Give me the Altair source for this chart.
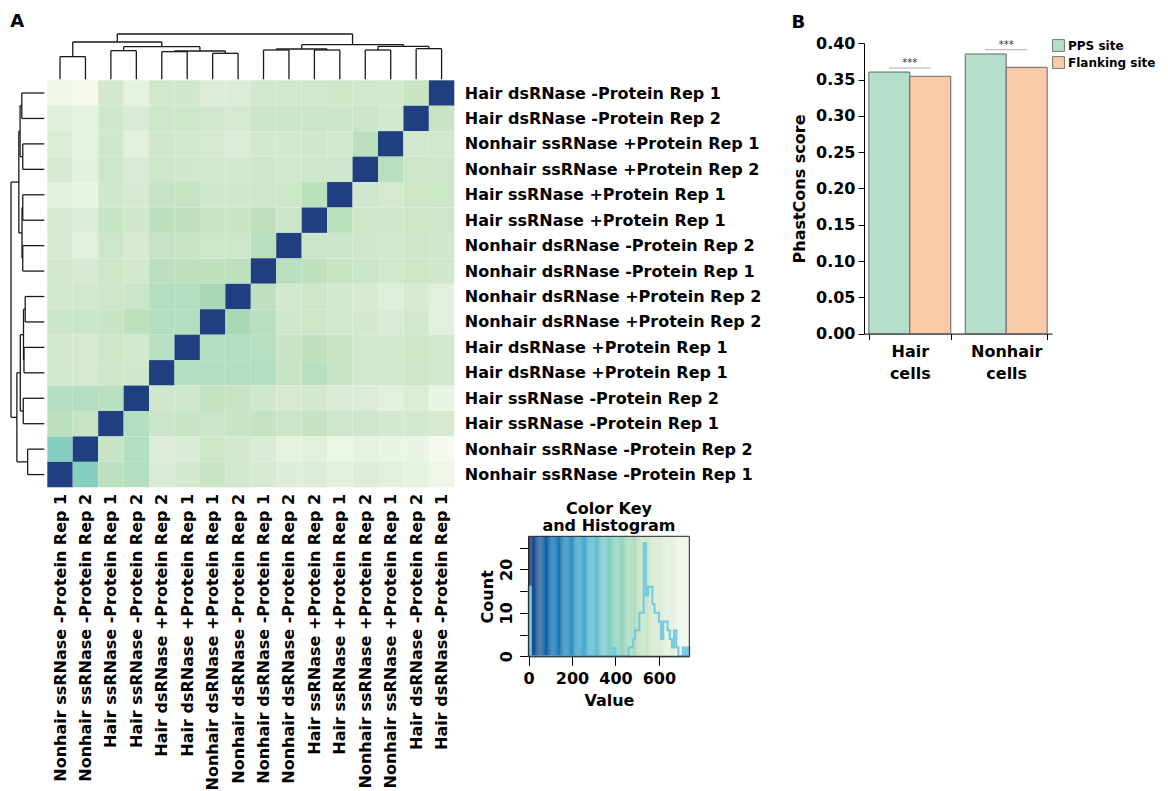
import json
import numpy as np
import pandas as pd
import altair as alt

FONT = "DejaVu Sans"

# ---------------- data: panel A ----------------
col_labels = [
    "Nonhair ssRNase -Protein Rep 1",
    "Nonhair ssRNase -Protein Rep 2",
    "Hair ssRNase -Protein Rep 1",
    "Hair ssRNase -Protein Rep 2",
    "Hair dsRNase +Protein Rep 2",
    "Hair dsRNase +Protein Rep 1",
    "Nonhair dsRNase +Protein Rep 1",
    "Nonhair dsRNase -Protein Rep 2",
    "Nonhair dsRNase -Protein Rep 1",
    "Nonhair dsRNase -Protein Rep 2",
    "Hair ssRNase +Protein Rep 2",
    "Hair ssRNase +Protein Rep 1",
    "Nonhair ssRNase +Protein Rep 2",
    "Nonhair ssRNase +Protein Rep 1",
    "Hair dsRNase -Protein Rep 2",
    "Hair dsRNase -Protein Rep 1",
]
row_labels = [
    "Hair dsRNase -Protein Rep 1",
    "Hair dsRNase -Protein Rep 2",
    "Nonhair ssRNase +Protein Rep 1",
    "Nonhair ssRNase +Protein Rep 2",
    "Hair ssRNase +Protein Rep 1",
    "Hair ssRNase +Protein Rep 1",
    "Nonhair dsRNase -Protein Rep 2",
    "Nonhair dsRNase -Protein Rep 1",
    "Nonhair dsRNase +Protein Rep 2",
    "Nonhair dsRNase +Protein Rep 2",
    "Hair dsRNase +Protein Rep 1",
    "Hair dsRNase +Protein Rep 1",
    "Hair ssRNase -Protein Rep 2",
    "Hair ssRNase -Protein Rep 1",
    "Nonhair ssRNase -Protein Rep 2",
    "Nonhair ssRNase -Protein Rep 1",
]
# distance values, one list per heatmap row (top to bottom), columns left to right
dist_rows = [
    [706, 740, 577, 670, 570, 562, 610, 610, 570, 570, 570, 552, 570, 577, 540, 0],
    [632, 670, 562, 600, 549, 549, 570, 582, 546, 546, 546, 546, 546, 577, 0, 540],
    [605, 670, 562, 640, 562, 570, 582, 610, 577, 577, 562, 577, 512, 0, 577, 570],
    [590, 650, 549, 600, 552, 562, 570, 578, 557, 570, 557, 557, 0, 512, 552, 557],
    [650, 685, 562, 590, 537, 537, 562, 562, 557, 552, 515, 0, 562, 582, 552, 549],
    [590, 610, 540, 562, 515, 525, 540, 540, 520, 546, 0, 515, 552, 562, 552, 557],
    [590, 650, 549, 590, 537, 537, 549, 549, 512, 0, 546, 546, 557, 570, 552, 562],
    [570, 590, 549, 577, 515, 520, 528, 520, 0, 512, 525, 537, 546, 570, 552, 562],
    [570, 570, 552, 546, 495, 495, 470, 0, 520, 570, 552, 577, 590, 628, 590, 640],
    [546, 546, 540, 520, 495, 495, 0, 470, 512, 562, 552, 570, 578, 600, 570, 640],
    [577, 590, 552, 570, 505, 0, 495, 495, 505, 540, 525, 540, 570, 570, 552, 577],
    [570, 582, 552, 562, 0, 495, 495, 495, 495, 540, 512, 540, 570, 570, 552, 570],
    [495, 495, 505, 0, 557, 562, 531, 537, 562, 590, 577, 600, 610, 640, 605, 685],
    [518, 537, 0, 495, 546, 540, 546, 540, 535, 546, 535, 557, 557, 577, 570, 586],
    [400, 0, 540, 495, 610, 600, 552, 570, 600, 670, 640, 695, 670, 690, 690, 740],
    [0, 400, 520, 495, 600, 577, 540, 570, 590, 620, 610, 650, 620, 640, 670, 710],
]
# hierarchical clustering merges (negative = leaf in column order, positive = earlier merge)
merge_left = [-1, -3, -5, -7, 3, 2, 1, -9, -11, 8, -13, -15, 11, 10, 7]
merge_right = [-2, -4, -6, -8, 4, 5, 6, -10, -12, 9, -14, -16, 12, 13, 14]
merge_height = [68, 86, 83, 78, 85, 98, 112, 88, 88, 91, 88, 92, 99, 104, 136]

# histogram of the colour key (bin start -> count, bins of 10)
hist_bin_starts = [0, 390, 460, 470, 480, 490, 500, 510, 520, 530, 540, 550, 560, 570, 580,
                   590, 600, 610, 620, 630, 640, 650, 660, 670, 680, 710, 730]
hist_counts = [16, 2, 2, 2, 4, 6, 6, 10, 10, 26, 14, 16, 16, 12, 10,
               10, 8, 4, 8, 8, 6, 4, 2, 6, 2, 2, 2]
hist_bin_width = 10
key_value_max = 740
key_count_max = 27.6

color_stops = [0, 100, 190, 280, 360, 400, 470, 495, 520, 550, 610, 670, 740]
color_hex = ["#1f3f80", "#0868ac", "#2b8cbe", "#4eb3d3", "#7bccc4", "#85cfc0",
             "#a8d8b4", "#b4dec0", "#bde0be", "#cce6c8", "#dcecd6", "#e6f2e0", "#f5f9ee"]

# ---------------- data: panel B ----------------
bar_cells = ["Hair cells", "Hair cells", "Nonhair cells", "Nonhair cells"]
bar_sites = ["PPS site", "Flanking site", "PPS site", "Flanking site"]
bar_values = [0.3604, 0.3545, 0.3853, 0.3669]
sig_cells = ["Hair cells", "Nonhair cells"]
sig_values = [0.366, 0.391]
site_names = ["PPS site", "Flanking site"]
site_colors = ["#b3dfcb", "#fbcba9"]
cell_names = ["Hair cells", "Nonhair cells"]

# ---------------- layout (pixels) ----------------
OX, OY = 11.7, 32.7
HEAT_X = [48 - OX, 455 - OX]
HEAT_Y = [79 - OY, 486 - OY]
ROWD_X = [45 - OX, 11.7 - OX]
COLD_Y = [78 - OY, 32.7 - OY]
KEY_X = [529.3 - OX, 690 - OX]
KEY_Y = [655 - OY, 535 - OY]
A_W = 455 - OX
A_H = 486 - OY
B_W = 188
B_H = 332.3 - OY
B_Y_RANGE = [B_H, 42 - OY]

# ---------------- derived tables ----------------
n = len(col_labels)
heat_df = pd.DataFrame(
    [{"c": c, "c2": c + 1, "r": r, "r2": r + 1, "dist": dist_rows[r][c]}
     for r in range(n) for c in range(n)]
)

pos, hgt, segs = {}, {}, []
for j in range(n):
    pos[-(j + 1)] = j + 0.5
    hgt[-(j + 1)] = 0
for m, (a, b, h) in enumerate(zip(merge_left, merge_right, merge_height), start=1):
    for ch in (a, b):
        segs.append((pos[ch], pos[ch], hgt[ch], h))
    segs.append((pos[a], pos[b], h, h))
    pos[m] = (pos[a] + pos[b]) / 2
    hgt[m] = h
seg_df = pd.DataFrame(segs, columns=["p1", "p2", "h1", "h2"])
seg_df["rp1"] = n - seg_df["p1"]
seg_df["rp2"] = n - seg_df["p2"]
HMAX = max(merge_height)

count_of = dict(zip(hist_bin_starts, hist_counts))
starts = list(range(0, key_value_max, hist_bin_width))
step_counts = [count_of.get(s, 0) for s in starts]
hist_df = pd.DataFrame({
    "kx": [0] + starts + [key_value_max, key_value_max],
    "ky": [0] + step_counts + [step_counts[-1], 0],
})
kedges = np.linspace(0, key_value_max, 149)
keybg_df = pd.DataFrame({"kx": kedges[:-1], "kx2": kedges[1:],
                         "kv": (kedges[:-1] + kedges[1:]) / 2,
                         "ky": 0.0, "ky2": key_count_max})
frame_df = pd.DataFrame({"kx": [0.0], "kx2": [key_value_max], "ky": [0.0], "ky2": [key_count_max]})
keytitle_df = pd.DataFrame({"kx": [key_value_max / 2], "ky": [32.7],
                            "t": ["Color Key\nand Histogram"]})

# ---------------- panel A ----------------
cscale = alt.Scale(domain=color_stops, range=color_hex, interpolate="rgb")
idx_x = alt.Scale(domain=[0, n], range=HEAT_X, nice=False, zero=False)
idx_y = alt.Scale(domain=[0, n], range=HEAT_Y, nice=False, zero=False)
tick_vals = [i + 0.5 for i in range(n)]
lab_common = dict(ticks=False, domain=False, grid=False, title=None, labelFontSize=16,
                  labelFontWeight="bold", labelColor="black", labelOverlap=False,
                  labelFlush=False, labelBound=False, labelLimit=0, values=tick_vals)

rowd = alt.Chart(seg_df).mark_rule(color="#1a1a1a", strokeWidth=1.3).encode(
    x=alt.X("h1:Q", scale=alt.Scale(domain=[0, HMAX], range=ROWD_X, nice=False, zero=False), axis=None),
    x2="h2:Q",
    y=alt.Y("rp1:Q", scale=idx_y, axis=None),
    y2="rp2:Q",
)
cold = alt.Chart(seg_df).mark_rule(color="#1a1a1a", strokeWidth=1.3).encode(
    x=alt.X("p1:Q", scale=idx_x, axis=None),
    x2="p2:Q",
    y=alt.Y("h1:Q", scale=alt.Scale(domain=[0, HMAX], range=COLD_Y, nice=False, zero=False), axis=None),
    y2="h2:Q",
)
heat = alt.Chart(heat_df).mark_rect().encode(
    x=alt.X("c:Q", scale=idx_x,
            axis=alt.Axis(orient="bottom", labelExpr=f"{json.dumps(col_labels)}[floor(datum.value)]",
                          labelAngle=270, labelPadding=6, **lab_common)),
    x2="c2:Q",
    y=alt.Y("r:Q", scale=idx_y,
            axis=alt.Axis(orient="right", labelExpr=f"{json.dumps(row_labels)}[floor(datum.value)]",
                          labelAlign="left", labelBaseline="middle", labelPadding=10, **lab_common)),
    y2="r2:Q",
    color=alt.Color("dist:Q", scale=cscale, legend=None),
)

kx_scale = alt.Scale(domain=[0, key_value_max], range=KEY_X, nice=False, zero=False)
ky_scale = alt.Scale(domain=[0, key_count_max], range=KEY_Y, nice=False, zero=False)
kx_axis = alt.Axis(orient="bottom", offset=KEY_Y[0] - A_H, values=[0, 200, 400, 600], title="Value",
                   grid=False, labelFlush=False, tickSize=9, labelFontSize=16, titleFontSize=16,
                   titlePadding=6, labelPadding=5)
ky_axis = alt.Axis(orient="left", offset=-KEY_X[0], values=[0, 5, 10, 15, 20, 25], title="Count",
                   labelExpr="datum.value % 10 == 0 ? datum.label : ''", labelAngle=270,
                   labelAlign="center", labelBaseline="bottom", grid=False, tickSize=9,
                   labelFontSize=16, titleFontSize=16, titlePadding=3, labelPadding=5)

key_bg = alt.Chart(keybg_df).mark_rect().encode(
    x=alt.X("kx:Q", scale=kx_scale, axis=kx_axis), x2="kx2:Q",
    y=alt.Y("ky:Q", scale=ky_scale, axis=ky_axis), y2="ky2:Q",
    color=alt.Color("kv:Q", scale=cscale, legend=None),
)
key_hist = alt.Chart(hist_df).mark_line(interpolate="step-after", color="#72c8e2", strokeWidth=2).encode(
    x=alt.X("kx:Q", scale=kx_scale, axis=kx_axis),
    y=alt.Y("ky:Q", scale=ky_scale, axis=ky_axis),
)
key_frame = alt.Chart(frame_df).mark_rect(fill=None, stroke="#222", strokeWidth=1).encode(
    x=alt.X("kx:Q", scale=kx_scale, axis=kx_axis), x2="kx2:Q",
    y=alt.Y("ky:Q", scale=ky_scale, axis=ky_axis), y2="ky2:Q",
)
key_title = alt.Chart(keytitle_df).mark_text(
    lineBreak="\n", baseline="alphabetic", align="center", fontSize=16, fontWeight="bold",
    lineHeight=17, color="black").encode(
    x=alt.X("kx:Q", scale=kx_scale, axis=kx_axis),
    y=alt.Y("ky:Q", scale=ky_scale, axis=ky_axis),
    text="t:N",
)
key = alt.layer(key_bg, key_hist, key_frame, key_title)

panelA = alt.layer(rowd, cold, heat, key).resolve_scale(
    x="independent", y="independent", color="independent"
).properties(
    width=A_W, height=A_H,
    title=alt.TitleParams("A", anchor="start", fontSize=18, fontWeight="bold", offset=2),
)

# ---------------- panel B ----------------
bars_df = pd.DataFrame({"cell": bar_cells, "site": bar_sites, "value": bar_values})
sig_df = pd.DataFrame({"cell": sig_cells, "value": sig_values})

bx = alt.X("cell:N", sort=cell_names,
           scale=alt.Scale(paddingInner=0.15, paddingOuter=0.05),
           axis=alt.Axis(title=None, labelAngle=0, labelExpr="split(datum.label, ' ')",
                         tickBand="extent", labelFontSize=16, labelLineHeight=22,
                         tickSize=6, labelPadding=4))
by = alt.Y("value:Q", scale=alt.Scale(domain=[0, 0.4], nice=False, zero=True, range=B_Y_RANGE),
           axis=alt.Axis(title="PhastCons score", values=[0, 0.05, 0.1, 0.15, 0.2, 0.25, 0.3, 0.35, 0.4],
                         format=".2f", grid=False, tickSize=6, labelFontSize=16, titleFontSize=16,
                         titlePadding=8, labelPadding=3))

bars = alt.Chart(bars_df).mark_bar(stroke="#666", strokeWidth=1).encode(
    x=bx,
    xOffset=alt.XOffset("site:N", sort=site_names),
    y=by,
    color=alt.Color("site:N", sort=site_names,
                    scale=alt.Scale(domain=site_names, range=site_colors),
                    legend=alt.Legend(orient="none", legendX=B_W, legendY=5, title=None,
                                      symbolType="square", symbolSize=140, symbolStrokeColor="#777",
                                      symbolStrokeWidth=1, labelFontSize=12, labelFontWeight="bold",
                                      labelColor="black", rowPadding=0, labelOffset=3)),
)
sig_line = alt.Chart(sig_df).mark_tick(orient="horizontal", size=42, thickness=1, color="#888").encode(
    x=bx, y=by)
sig_text = alt.Chart(sig_df).mark_text(text="***", dy=-5, fontSize=10, color="#333").encode(
    x=bx, y=by)

panelB = alt.layer(bars, sig_line, sig_text).properties(
    width=B_W, height=B_H,
    title=alt.TitleParams("B", anchor="start", frame="bounds", fontSize=18, fontWeight="bold", offset=2),
)

chart = alt.hconcat(panelA, panelB, spacing=30).resolve_scale(color="independent").properties(
    padding={"left": 2, "top": 5, "right": 2, "bottom": 2}
).configure(font=FONT).configure_view(stroke=None).configure_axis(
    labelFontWeight="bold", titleFontWeight="bold", labelColor="black", titleColor="black",
    domainColor="black", tickColor="black"
)

chart.save("out.html", embed_options={"renderer": "svg", "actions": False})
